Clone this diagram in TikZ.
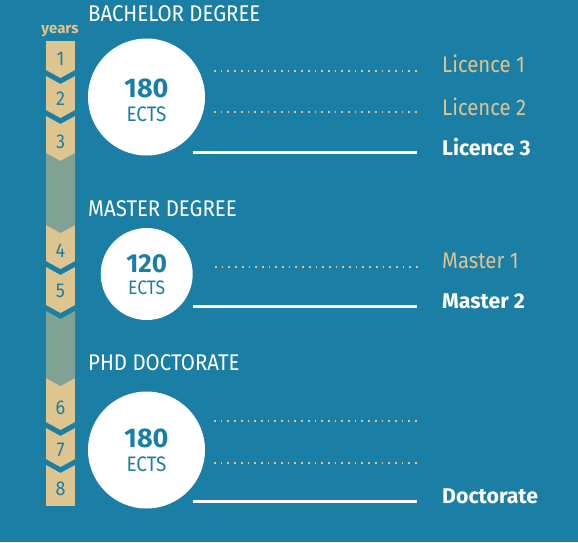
\documentclass[tikz,border=0pt]{standalone}
\usepackage{fontspec}
\setmainfont{Fira Sans}[FakeStretch=0.9, BoldFeatures={FakeStretch=1.0}]
\usepackage{xcolor}
\usepackage{tikz}

\definecolor{ectsblue}{HTML}{1A7EA5}
\definecolor{ectstan}{HTML}{DEC48F}
\definecolor{ectsgray}{HTML}{80A294}

\tikzset{
  yearnum/.style={anchor=base, inner sep=0pt, text=ectsblue, font=\fontsize{20}{20}\selectfont},
  degreetitle/.style={anchor=base west, inner sep=0pt, text=white, font=\fontsize{22.7}{23}\selectfont},
  ectsnum/.style={anchor=base, inner sep=0pt, text=ectsblue, font=\fontsize{27}{27}\selectfont\bfseries},
  ectsunit/.style={anchor=base, inner sep=0pt, text=ectsblue, font=\fontsize{21}{21}\selectfont},
  yearlabel/.style={anchor=base west, inner sep=0pt, text=ectstan, font=\fontsize{22.6}{23}\selectfont},
  finallabel/.style={anchor=base west, inner sep=0pt, text=white, font=\fontsize{21.3}{21}\selectfont\bfseries},
  dotline/.style={ectstan, line width=1.7pt, dash pattern=on 1.7pt off 5pt},
  fullline/.style={white, line width=3pt},
  gapline/.style={ectsblue, line width=5pt, miter limit=10}
}

\begin{document}
\begin{tikzpicture}[x=1pt,y=-1pt]
  \useasboundingbox (0,0) rectangle (578,542);
  \fill[ectsblue] (0,0) rectangle (578,542);

  % years column
  \begin{scope}
    \node[anchor=base, inner sep=0pt, text=ectstan, font=\fontsize{15}{15}\selectfont\bfseries] (years) at (60,33) {years};
    \fill[ectstan] (46,41) rectangle (75,506);
    \fill[ectsgray] (46,153) -- (60.5,161) -- (75,153) -- (75,225) -- (60.5,233) -- (46,225) -- cycle;
    \fill[ectsgray] (46,308) -- (60.5,316) -- (75,308) -- (75,378) -- (60.5,386) -- (46,378) -- cycle;
    \foreach \y in {73,113,264,308,425,462}
      \draw[gapline] (36,\y-5.5) -- (60.5,\y+8) -- (85,\y-5.5);
    \foreach \n/\y in {1/65,2/105,3/148,4/257,5/297,6/414,7/456,8/495}
      \node[yearnum] (y\n) at (60.5,\y) {\n};
  \end{scope}

  % bachelor
  \node[degreetitle] (bachelor) at (88,21) {BACHELOR DEGREE};
  \fill[white] (146.5,97) circle (58.5);
  \node[ectsnum] (bachelorects) at (146.5,97) {180};
  \node[ectsunit] (bachelorunit) at (146.5,121) {ECTS};
  \draw[dotline] (214,71) -- (418,71);
  \draw[dotline] (214,112) -- (418,112);
  \draw[fullline] (193,152.7) -- (417,152.7);
  \node[yearlabel] (lic1) at (442,72.3) {Licence 1};
  \node[yearlabel] (lic2) at (442,115) {Licence 2};
  \node[finallabel] (lic3) at (442,155) {Licence 3};

  % master
  \node[degreetitle] (master) at (88,216.7) {MASTER DEGREE};
  \fill[white] (146.7,274) circle (46);
  \node[ectsnum, font=\fontsize{26}{26}\selectfont\bfseries] (masterects) at (146.7,272.5) {120};
  \node[ectsunit, font=\fontsize{19.5}{20}\selectfont] (masterunit) at (146.7,294) {ECTS};
  \draw[dotline] (215,266.7) -- (418,266.7);
  \draw[fullline] (193,306.5) -- (417,306.5);
  \node[yearlabel] (mas1) at (442,268) {Master 1};
  \node[finallabel] (mas2) at (442,308) {Master 2};

  % doctorate
  \node[degreetitle] (phd) at (88,370.5) {PHD DOCTORATE};
  \fill[white] (146.5,450) circle (58.5);
  \node[ectsnum] (phdects) at (146.5,447) {180};
  \node[ectsunit] (phdunit) at (146.5,471) {ECTS};
  \draw[dotline] (214,421) -- (418,421);
  \draw[dotline] (214,463) -- (418,463);
  \draw[fullline] (193,501) -- (417,501);
  \node[finallabel] (doc) at (442,503) {Doctorate};
\end{tikzpicture}
\end{document}
